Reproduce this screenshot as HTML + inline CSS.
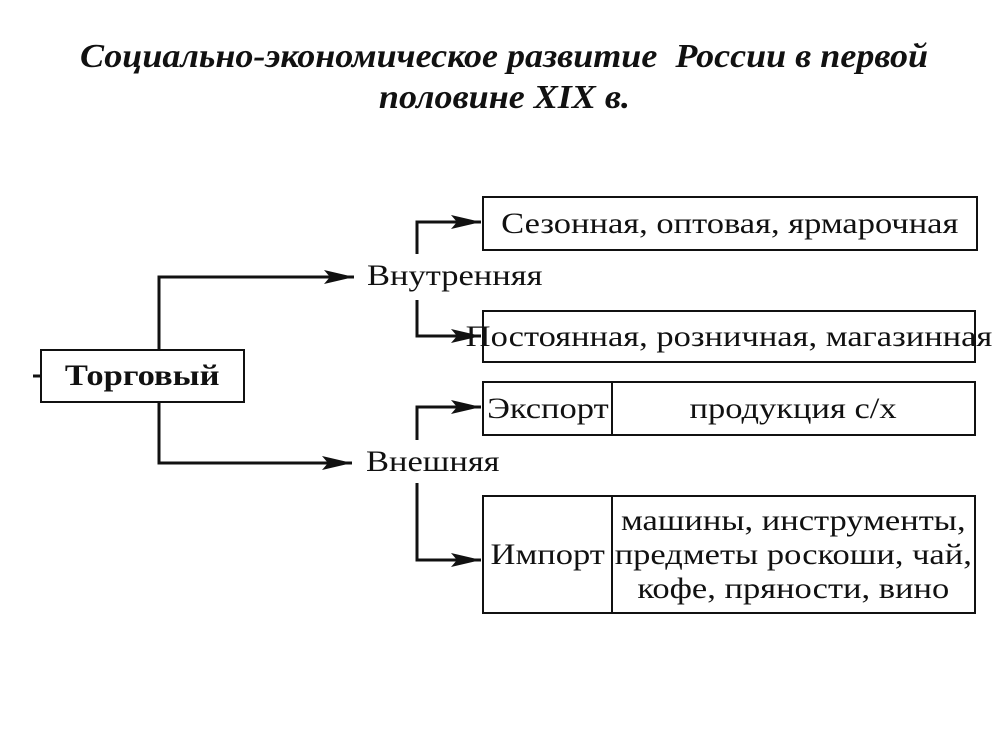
<!DOCTYPE html>
<html><head><meta charset="utf-8"><style>
body{margin:0;width:1008px;height:756px;background:#fff;position:relative;overflow:hidden;font-family:"Liberation Serif",serif;color:#111}
.t{position:absolute;left:0;width:1008px;text-align:center;font-style:italic;font-weight:bold;text-decoration:underline;font-size:34px}
.t span{display:inline-block;transform:scaleX(1.06)}
.b{position:absolute;border:2px solid #111;box-sizing:border-box;display:flex;align-items:center;justify-content:center;font-size:30px;white-space:nowrap}
.s{display:inline-block;transform:scaleX(1.15)}
.l{position:absolute;font-size:30px;white-space:nowrap;transform:scaleX(1.15);transform-origin:left center}
</style></head><body>
<div class="t" style="top:38px"><span>Социально-экономическое развитие &nbsp;России в первой</span></div>
<div class="t" style="top:79px"><span>половине XIX в.</span></div>
<svg width="1008" height="756" style="position:absolute;left:0;top:0">
<defs><marker id="a" markerWidth="30" markerHeight="14" refX="30" refY="7" orient="auto" markerUnits="userSpaceOnUse"><path d="M0,0 L30,7 L0,14 L6,7 Z" fill="#111"/></marker></defs>
<g stroke="#111" stroke-width="3" fill="none">
<path d="M159,349 V277 H354" marker-end="url(#a)"/>
<path d="M159,402 V463 H352" marker-end="url(#a)"/>
<path d="M417,254 V222 H481" marker-end="url(#a)"/>
<path d="M417,300 V336 H481" marker-end="url(#a)"/>
<path d="M417,440 V407 H481" marker-end="url(#a)"/>
<path d="M417,483 V560 H481" marker-end="url(#a)"/>
<path d="M33,376 H40"/>
</g></svg>
<div class="b" style="left:40px;top:349px;width:205px;height:54px;font-weight:bold"><span class="s">Торговый</span></div>
<div class="l" style="left:367px;top:259px">Внутренняя</div>
<div class="l" style="left:366px;top:445px">Внешняя</div>
<div class="b" style="left:482px;top:196px;width:496px;height:55px"><span class="s">Сезонная, оптовая, ярмарочная</span></div>
<div class="b" style="left:482px;top:310px;width:494px;height:53px"><span class="s">Постоянная, розничная, магазинная</span></div>
<div class="b" style="left:482px;top:381px;width:131px;height:55px"><span class="s">Экспорт</span></div>
<div class="b" style="left:611px;top:381px;width:365px;height:55px"><span class="s">продукция с/х</span></div>
<div class="b" style="left:482px;top:495px;width:131px;height:119px"><span class="s">Импорт</span></div>
<div class="b" style="left:611px;top:495px;width:365px;height:119px;text-align:center;line-height:34px"><span class="s">машины, инструменты,<br>предметы роскоши, чай,<br>кофе, пряности, вино</span></div>
</body></html>
